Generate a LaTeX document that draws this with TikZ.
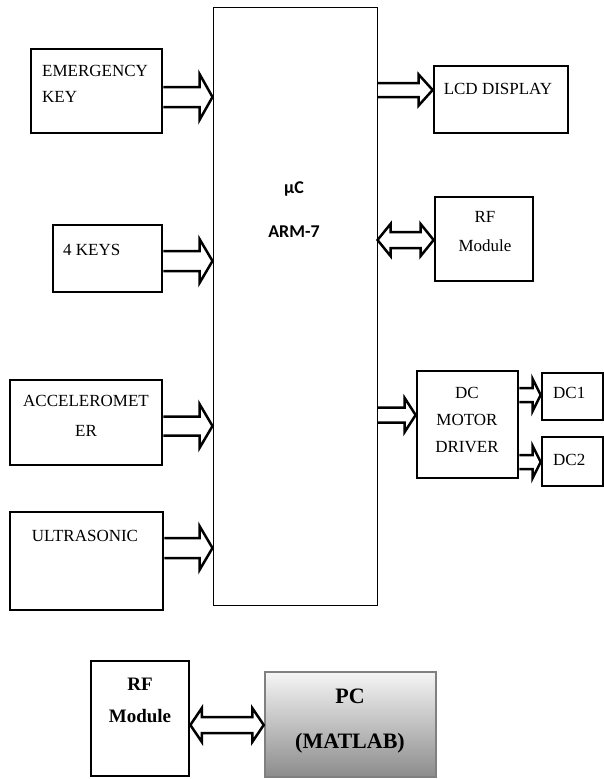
\documentclass[tikz,border=0pt]{standalone}
\usepackage{fontspec}
\setmainfont{Liberation Serif}
\newfontfamily\calibfont{Carlito}
\usetikzlibrary{calc}
\begin{document}
\begin{tikzpicture}
[
    x=1pt, y=-1pt,
    box/.style={draw, rectangle, line width=2.7pt, inner sep=0pt},
    lbl/.style={inner sep=0pt, font=\fontsize{17}{27}\selectfont},
    blk/.style n args={3}{line width=2.5pt, to path={let \p1=(\tikztostart), \p2=(\tikztotarget) in
        (\x1,\y1+#1) -- (\x2-#3,\y1+#1) -- (\x2-#3,\y1+#2) -- (\x2,\y1)
        -- (\x2-#3,\y1-#2) -- (\x2-#3,\y1-#1) -- (\x1,\y1-#1)}},
    blkboth/.style n args={3}{line width=2.5pt, to path={let \p1=(\tikztostart), \p2=(\tikztotarget) in
        (\x1,\y1) -- (\x1+#3,\y1+#2) -- (\x1+#3,\y1+#1) -- (\x2-#3,\y1+#1) -- (\x2-#3,\y1+#2)
        -- (\x2,\y1) -- (\x2-#3,\y1-#2) -- (\x2-#3,\y1-#1) -- (\x1+#3,\y1-#1) -- (\x1+#3,\y1-#2) -- cycle}}
]
    \useasboundingbox (0,0) rectangle (604,779);

    \node [draw, rectangle, line width=1pt, minimum width=164pt, minimum height=598pt] (mcu) at (295,306) {};
    \node [inner sep=0pt, anchor=north, align=center, font=\calibfont\bfseries\fontsize{18}{44}\selectfont] (mculbl) at (294,181) {µC\\ARM-7};

    \node [box, minimum width=131pt, minimum height=84pt] (emkey) at (96.5,91) {};
    \node [lbl, anchor=north west, align=left, font=\fontsize{17}{26}\selectfont] (emkeylbl) at (42,65) {EMERGENCY\\KEY};

    \node [box, minimum width=109pt, minimum height=67pt] (keys) at (107.5,258.5) {};
    \node [lbl, anchor=north west] (keyslbl) at (63,244) {4 KEYS};

    \node [box, minimum width=152pt, minimum height=85pt] (accel) at (86,422.5) {};
    \node [lbl, anchor=north, align=center, font=\fontsize{17}{30}\selectfont] (accellbl) at (86,395) {ACCELEROMET\\ER};

    \node [box, minimum width=153pt, minimum height=98pt] (ultra) at (86.5,561) {};
    \node [lbl, anchor=north] (ultralbl) at (85,530) {ULTRASONIC};

    \node [box, minimum width=134pt, minimum height=67pt] (lcd) at (501,99.5) {};
    \node [lbl, anchor=north] (lcdlbl) at (498,83) {LCD DISPLAY};

    \node [box, minimum width=98pt, minimum height=84pt] (rf) at (484,239) {};
    \node [lbl, anchor=north, align=center, font=\fontsize{17}{29}\selectfont] (rflbl) at (485,211) {RF\\Module};

    \node [box, minimum width=101pt, minimum height=107pt] (drv) at (467.5,424.5) {};
    \node [lbl, anchor=north, align=center] (drvlbl) at (467,387) {DC\\MOTOR\\DRIVER};

    \node [box, minimum width=61pt, minimum height=47pt] (dcone) at (572.5,396.5) {};
    \node [lbl, anchor=north west] (doconelbl) at (553,387) {DC1};
    \node [box, minimum width=61pt, minimum height=49pt] (dctwo) at (572.5,461.5) {};
    \node [lbl, anchor=north west] (dctwolbl) at (553,454) {DC2};

    \node [box, minimum width=98pt, minimum height=115pt] (rfpc) at (140,718.5) {};
    \node [inner sep=0pt, anchor=north, align=center, font=\bfseries\fontsize{19}{32}\selectfont] (rfpclbl) at (140,677.5) {RF\\Module};

    \node [draw=black!50, line width=2.5pt, rectangle, minimum width=171pt, minimum height=105pt,
        top color=black!4, bottom color=black!45] (pc) at (350.5,724.5) {};
    \node [inner sep=0pt, anchor=north, align=center, font=\bfseries\fontsize{22}{45}\selectfont] (pclbl) at (350,688.5) {PC\\(MATLAB)};

    \draw [blk={10pt}{23pt}{13pt}] ($(emkey.east)+(0,6)$) to (mcu.west);
    \draw [blk={10pt}{22pt}{13pt}] ($(keys.east)+(0,2.5)$) to (mcu.west);
    \draw [blk={9.5pt}{22pt}{13pt}] ($(accel.east)+(0,3.5)$) to (mcu.west);
    \draw [blk={10pt}{22pt}{13pt}] ($(ultra.east)+(0,-13)$) to (mcu.west);

    \draw [blk={7pt}{15.5pt}{14pt}] ($(mcu.east |- lcd.west)+(0,-9.5)$) to (lcd.west);
    \draw [blkboth={8pt}{16pt}{13pt}] ($(mcu.east |- rf.west)+(0,1)$) to (rf.west);
    \draw [blk={7.5pt}{17pt}{11pt}] ($(mcu.east |- drv.west)+(0,-9.5)$) to (drv.west);
    \draw [blk={7pt}{16pt}{8pt}] ($(drv.east |- dcone.west)+(0,-1.5)$) to (dcone.west);
    \draw [blk={7pt}{16pt}{8pt}] ($(drv.east |- dctwo.west)+(0,0.5)$) to (dctwo.west);

    \draw [blkboth={8pt}{17pt}{11.5pt}] ($(rfpc.east)+(0,6.5)$) to (pc.west);
\end{tikzpicture}
\end{document}
